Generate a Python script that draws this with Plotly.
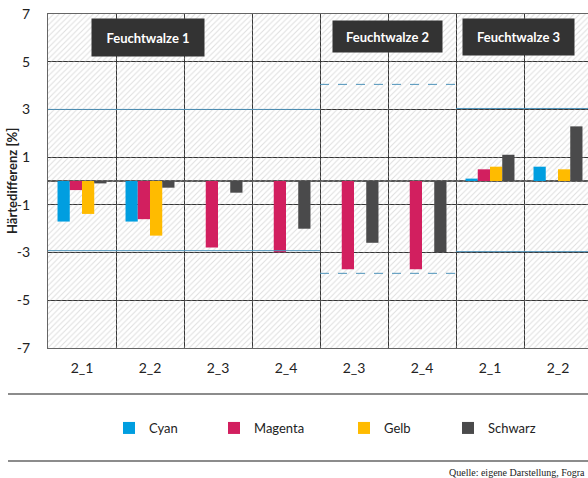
import plotly.graph_objects as go

# ---------------- data ----------------
categories = ["2_1", "2_2", "2_3", "2_4", "2_3", "2_4", "2_1", "2_2"]
cyan = [-1.70, -1.70, None, None, None, None, 0.10, 0.60]
magenta = [-0.38, -1.60, -2.79, -2.99, -3.70, -3.70, 0.49, None]
gelb = [-1.38, -2.29, None, None, None, None, 0.60, 0.49]
schwarz = [-0.10, -0.28, -0.49, -2.00, -2.59, -2.99, 1.10, 2.29]
series_names = ["Cyan", "Magenta", "Gelb", "Schwarz"]
series_colors = ["#009ee0", "#d21f5f", "#ffbb00", "#4a4a4b"]

section_labels = ["Feuchtwalze 1", "Feuchtwalze 2", "Feuchtwalze 3"]
section_first = [0, 4, 6]
section_last = [3, 5, 7]
upper_limits = [3.0, 4.05, 3.04]
lower_limits = [-2.92, -3.87, -2.96]
limit_dash = ["solid", "dash", "solid"]

y_ticks = [-7, -5, -3, -1, 1, 3, 5, 7]
y_ticktext = ["-7", "-5", "-3", "-1", "1", "3", "5", "7"]
y_title = "Härtedifferenz [%]"
source_text = "Quelle: eigene Darstellung, Fogra"

# ---------------- layout geometry ----------------
W, H = 588, 478
ML, MR, MT, MB = 48, 0, 14, 130
PW, PH = W - ML - MR, H - MT - MB
cat_px = 68.0
x_range = [-0.5, -0.5 + PW / cat_px]
y_range = [-7, 7]
n_cat = len(categories)
n_ser = len(series_names)
group_width = 0.72
bar_w = group_width / n_ser


def px_x(p):
    return (p - ML) / PW


def px_y(p):
    return (H - MB - p) / PH


font = "Lato, 'Open Sans', sans-serif"
fig = go.Figure()

# hatched plot background (drawn first, transparent so grid shows)
fig.add_trace(go.Bar(
    x=[(n_cat - 1) / 2], y=[y_range[1] - y_range[0]], base=[y_range[0]],
    width=[n_cat], marker=dict(color="rgba(0,0,0,0)", line=dict(width=0),
                               pattern=dict(shape="/", fgcolor="#bdbdbd",
                                            bgcolor="rgba(0,0,0,0)", size=4, solidity=0.25)),
    hoverinfo="skip", showlegend=False))

xs = list(range(n_cat))
legend_ids = ["legend", "legend2", "legend3", "legend4"]
for k, (name, vals, col, lg) in enumerate(zip(series_names, [cyan, magenta, gelb, schwarz],
                                              series_colors, legend_ids)):
    fig.add_trace(go.Bar(x=xs, y=vals, name=name, width=bar_w,
                         offset=-group_width / 2 + k * bar_w,
                         marker=dict(color=col, line=dict(width=0)), legend=lg))

# limit lines per section
for i in range(len(section_labels)):
    lx = [section_first[i] - 0.5, section_last[i] + 0.5]
    for lim in (upper_limits[i], lower_limits[i]):
        fig.add_trace(go.Scatter(
            x=lx, y=[lim, lim], mode="lines",
            line=dict(color="#4f93ba", width=1, dash=limit_dash[i]),
            hoverinfo="skip", showlegend=False))

# section label boxes
box_px = [(92, 204, 19, 56), (333, 442, 21, 52), (463, 574, 19, 55)]
annotations = []
for lab, (x0, x1, y0, y1) in zip(section_labels, box_px):
    annotations.append(dict(
        x=px_x((x0 + x1) / 2), y=px_y((y0 + y1) / 2), xref="paper", yref="paper",
        text="<b>" + lab + "</b>", showarrow=False, bgcolor="#333333",
        width=x1 - x0, height=y1 - y0, borderpad=0,
        font=dict(family=font, size=13, color="white"),
        xanchor="center", yanchor="middle"))

# y axis title
annotations.append(dict(
    x=px_x(12), y=0.5, xref="paper", yref="paper", text="<b>" + y_title + "</b>",
    textangle=-90, showarrow=False, xanchor="center", yanchor="middle",
    font=dict(family=font, size=13, color="#222")))

annotations.append(dict(
    x=px_x(447), y=px_y(472), xref="paper", yref="paper", text=source_text,
    showarrow=False, xanchor="left", yanchor="middle",
    font=dict(family="'Liberation Serif', serif", size=10, color="#222")))

shapes = []
for yy in (394, 461):
    shapes.append(dict(type="line", xref="paper", yref="paper",
                       x0=px_x(8), x1=px_x(600), y0=px_y(yy), y1=px_y(yy),
                       line=dict(color="#666666", width=1.5)))

legend_sym_x = [129, 234, 364, 468]
legend_layout = {}
for lg, sx in zip(legend_ids, legend_sym_x):
    legend_layout[lg] = dict(
        xref="container", yref="container",
        x=(sx - 20) / W, y=1 - 428 / H, xanchor="left", yanchor="middle",
        orientation="h", bgcolor="rgba(0,0,0,0)", borderwidth=0,
        font=dict(family=font, size=13, color="#222"), itemwidth=30)

fig.update_layout(
    width=W, height=H,
    margin=dict(l=ML, r=MR, t=MT, b=MB, pad=0, autoexpand=False),
    paper_bgcolor="white", plot_bgcolor="white",
    barmode="overlay",
    font=dict(family=font, size=13, color="#222"),
    annotations=annotations, shapes=shapes,
    showlegend=True,
    **legend_layout,
    xaxis=dict(
        range=x_range, tickmode="array", tickvals=xs, ticktext=categories,
        showgrid=False, zeroline=False, ticks="outside", ticklen=7,
        tickcolor="rgba(0,0,0,0)", showline=True, linecolor="#666", linewidth=1,
        mirror=True, automargin=False,
        minor=dict(tick0=0.5, dtick=1, showgrid=True, gridcolor="#333", gridwidth=1, ticks=""),
        tickfont=dict(family=font, size=14, color="#222")),
    yaxis=dict(
        range=y_range, tickmode="array", tickvals=y_ticks, ticktext=y_ticktext,
        automargin=False,
        showgrid=True, gridcolor="#333", gridwidth=1,
        zeroline=True, zerolinecolor="#555", zerolinewidth=2,
        showline=True, linecolor="#666", linewidth=1, mirror=True,
        ticks="outside", ticklen=14, tickcolor="rgba(0,0,0,0)",
        tickfont=dict(family=font, size=14, color="#222")),
)

fig.write_html("out.html", config={"displayModeBar": False},
               post_script="document.body.style.margin='0';")
